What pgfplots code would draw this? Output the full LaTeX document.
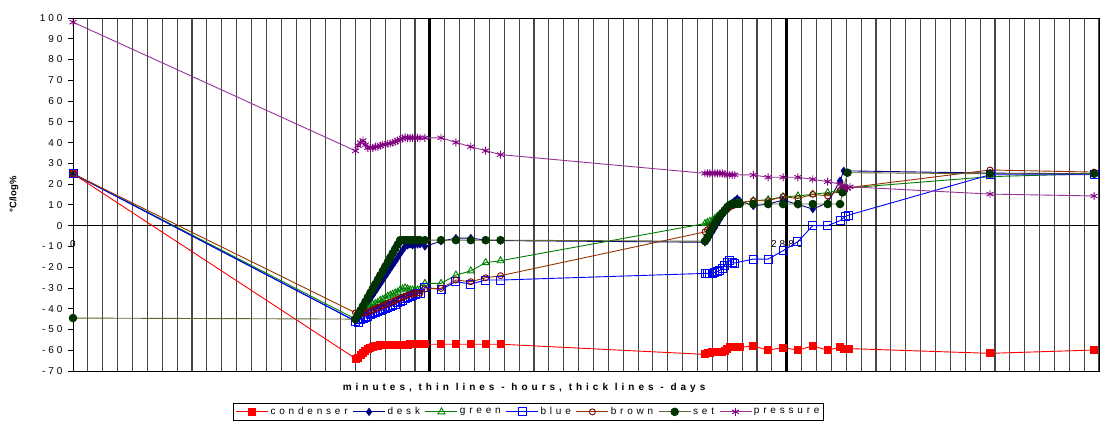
\documentclass[border=0pt]{standalone}
\usepackage{fontspec}
\setmainfont{Liberation Sans}
\newfontfamily\spfont{Liberation Sans}[LetterSpace=30]
\newfontfamily\lgfont{Liberation Sans}[LetterSpace=38]
\newfontfamily\xlfont{Liberation Sans}[LetterSpace=40]
\usepackage{pgfplots}
\pgfplotsset{compat=1.18}
\definecolor{condc}{HTML}{FF0000}
\definecolor{deskc}{HTML}{000080}
\definecolor{greenc}{HTML}{008000}
\definecolor{bluec}{HTML}{0000FF}
\definecolor{brownl}{HTML}{993300}
\definecolor{brownm}{HTML}{800000}
\definecolor{setl}{HTML}{666633}
\definecolor{setm}{HTML}{003300}
\definecolor{presl}{HTML}{993399}
\definecolor{presm}{HTML}{800080}
\begin{document}
\begin{tikzpicture}
\path[use as bounding box] (-73pt,-49pt) rectangle (1029pt,371pt);
\begin{axis}[
  at={(0,0)}, anchor=south west,
  scale only axis, width=1026pt, height=353pt,
  xmin=0, xmax=4140, ymin=-70, ymax=100,
  axis line style={black, line width=0.9pt},
  ytick={-70,-60,...,100},
  yticklabels={-70,-60,-50,-40,-30,-20,-10,0,10,20,30,40,50,60,70,80,90,100},
  yticklabel style={font=\spfont\fontsize{10}{12}\selectfont, xshift=-2pt},
  ytick pos=left, tick align=outside, major tick length=5pt,
  ytick style={black, line width=0.8pt},
  xtick={0,2880}, xticklabels={0,2880},
  xticklabel style={font=\spfont\fontsize{10}{12}\selectfont, anchor=north, yshift=139pt},
  xtick style={draw=none},
  minor xtick={60,120,...,4140}, xminorgrids, minor tick length=0pt,
  minor grid style={black!72, line width=1.1pt},
  extra x ticks={1440,2880}, extra x tick labels={},
  extra x tick style={xmajorgrids=true, major grid style={black, line width=3pt}, major tick length=0pt},
  extra y ticks={0}, extra y tick labels={},
  extra y tick style={ymajorgrids=true, major grid style={black, line width=0.9pt}},
  xlabel={\xlfont\bfseries minutes, thin lines - hours, thick lines - days},
  xlabel style={font=\fontsize{10}{12}\selectfont, at={(axis description cs:0.4396,-0.048)}, anchor=center},
  ylabel={\bfseries °C/log\%},
  ylabel style={font=\fontsize{9.5}{11}\selectfont, at={(axis description cs:-0.0575,0.5)}, anchor=center},
  legend columns=-1,
  legend style={at={(axis description cs:0.444,-0.0907)}, anchor=north, draw=black, line width=0.9pt,
    font=\lgfont\fontsize{10}{12}\selectfont, inner sep=2pt,
    /tikz/every even column/.append style={column sep=3pt}},
  legend image code/.code={\draw[mark repeat=2,mark phase=2,#1] plot coordinates {(0pt,0pt) (16pt,0pt) (32pt,0pt)};},
]
% condenser
\addplot[condc, line width=0.9pt, mark=square*, mark size=3.5pt, mark options={fill=condc}] table {
0 25
1140 -64
1150 -63.5
1160 -62.5
1170 -61.5
1180 -60.5
1190 -59.5
1200 -59
1210 -58.5
1220 -58
1230 -57.8
1240 -57.6
1250 -57.5
1260 -57.5
1270 -57.5
1280 -57.5
1290 -57.4
1300 -57.4
1310 -57.4
1320 -57.3
1330 -57.3
1340 -57.3
1350 -57.3
1360 -57.2
1370 -57.2
1380 -57.2
1390 -57.2
1400 -57.2
1420 -57.1
1485 -57.1
1545 -57.1
1605 -57.1
1665 -57.1
1725 -57.1
2550 -62
2560 -61.5
2570 -61.2
2580 -61
2590 -61
2600 -61
2610 -61
2620 -61
2630 -60.5
2640 -59.5
2650 -58.3
2660 -58.3
2670 -58.3
2680 -58.6
2690 -58.6
2745 -58
2805 -59.9
2865 -58.8
2925 -59.9
2985 -58
3045 -59.9
3095 -58.6
3110 -59.2
3130 -59.2
3700 -61.5
4120 -59.9
};
\addlegendentry{condenser}
% desk
\addplot[deskc, line width=0.9pt, mark=diamond*, mark size=3.5pt, mark options={fill=deskc}] table {
0 25
1140 -46
1150 -44.2
1160 -42.4
1170 -40.6
1180 -38.8
1190 -37
1200 -35.2
1210 -33.4
1220 -31.6
1230 -29.8
1240 -28
1250 -26.2
1260 -24.4
1270 -22.6
1280 -20.8
1290 -19
1300 -17.2
1310 -15.4
1320 -13.6
1330 -11.8
1340 -10
1350 -9.5
1360 -9
1370 -9.5
1380 -9
1390 -9
1400 -9
1420 -10
1485 -7.5
1545 -6
1605 -6
1665 -7
1725 -7.2
2550 -8
2560 -7
2570 -5
2580 -3
2590 -1
2600 1
2610 3
2620 5
2630 7
2640 8.5
2650 10
2660 11
2670 12
2680 13
2690 12
2745 9.5
2805 10.4
2865 12.3
2925 10.2
2985 8
3045 11
3095 21.6
3110 26.4
3700 25.3
4120 25
};
\addlegendentry{desk}
% green
\addplot[greenc, line width=0.9pt, mark=triangle, mark size=4pt] table {
0 25
1140 -45
1150 -44
1160 -43
1170 -42
1180 -41
1190 -40
1200 -39
1210 -38
1220 -37.5
1230 -37
1240 -36
1250 -35.5
1260 -35
1270 -34
1280 -33.5
1290 -33
1300 -32.5
1310 -32
1320 -31
1330 -30.5
1340 -30
1350 -30.5
1360 -31
1370 -31
1380 -31
1390 -31
1400 -31
1420 -27.8
1485 -27.8
1545 -23.8
1605 -21.8
1665 -17.8
1725 -16.9
2550 1
2560 1.5
2570 2
2580 2.5
2590 3.5
2600 4.5
2610 5.5
2620 6.5
2630 7.5
2640 8.5
2650 9.5
2660 10
2670 10.5
2680 11
2690 11
2745 12
2805 12.5
2865 13.9
2925 14.3
2985 15.1
3045 15.9
3095 17
3110 18
3700 23.6
4120 25
};
\addlegendentry{green}
% blue
\addplot[bluec, line width=0.9pt, mark=square, mark size=4pt] table {
0 25
1140 -46
1150 -46.5
1160 -45
1170 -44.5
1180 -44
1190 -43.5
1200 -43
1210 -42.5
1220 -42
1230 -41.5
1240 -41
1250 -40.5
1260 -40
1270 -39.5
1280 -39
1290 -38.5
1300 -38
1310 -37
1320 -36.5
1330 -36
1340 -35
1350 -34.5
1360 -34
1370 -33.5
1380 -33
1390 -32.5
1400 -32.5
1420 -29.7
1485 -30.7
1545 -27
1605 -28.1
1665 -26.2
1725 -26.2
2550 -23
2560 -23
2570 -23
2580 -23
2590 -22.5
2600 -22
2610 -21.5
2620 -20.5
2630 -19
2640 -17.5
2650 -16.9
2660 -17.5
2670 -18
2745 -16.1
2805 -16.1
2865 -12.1
2925 -7.7
2985 0
3045 0
3095 2.4
3115 4.3
3130 5.1
3700 24.5
4120 24.5
};
\addlegendentry{blue}
% brown
\addplot[brownl, line width=0.9pt, mark=o, mark size=3pt, mark options={draw=brownm}] table {
0 25
1140 -42
1150 -43
1160 -42.5
1170 -42
1180 -42
1190 -41.5
1200 -41
1210 -40.5
1220 -40
1230 -39.5
1240 -39
1250 -38.5
1260 -38
1270 -37.5
1280 -37
1290 -36.5
1300 -36
1310 -35.5
1320 -35
1330 -34.5
1340 -34
1350 -33.5
1360 -33
1370 -33
1380 -32.5
1390 -32.5
1400 -32.5
1420 -30.5
1485 -30.2
1545 -26.2
1605 -27
1665 -25.1
1725 -24.1
2550 -3
2560 -2
2570 -1
2580 0
2590 1.5
2600 3
2610 4.5
2620 6
2630 7
2640 8
2650 9
2660 9.5
2670 10
2680 10.5
2690 11
2745 12
2805 12
2865 14
2925 13.1
2985 15.1
3045 14.3
3095 17
3110 18
3700 26.8
4120 25.8
};
\addlegendentry{brown}
% set
\addplot[setl, line width=0.9pt, mark=*, mark size=3.8pt, mark options={draw=setm, fill=setm}] table {
0 -44.5
1140 -45
1150 -42.9
1160 -40.8
1170 -38.7
1180 -36.6
1190 -34.4
1200 -32.3
1210 -30.2
1220 -28.1
1230 -26
1240 -23.9
1250 -21.8
1260 -19.7
1270 -17.6
1280 -15.4
1290 -13.3
1300 -11.2
1310 -9.1
1320 -7
1330 -7
1340 -7
1350 -7
1360 -7
1370 -7
1380 -7
1390 -7
1400 -7
1420 -7
1485 -7
1545 -7
1605 -7
1665 -7
1725 -7
2550 -7.5
2560 -5.5
2570 -3
2580 -1
2590 1
2600 3
2610 4.5
2620 6
2630 7.5
2640 9
2650 10
2660 10.5
2670 10.5
2680 10.5
2690 10.5
2745 10.4
2805 10.4
2865 10.4
2925 10.4
2985 10.4
3045 10.4
3095 10.4
3105 16
3125 25.5
3700 25
4120 25
};
\addlegendentry{set}
% pressure
\addplot[presl, line width=0.9pt, mark=asterisk, mark size=4pt, mark options={draw=presm}] table {
0 98
1140 36
1150 38.5
1160 40
1170 41
1180 39
1190 37.5
1200 37.5
1210 37.5
1220 38
1230 38
1240 38.5
1250 39
1260 39
1270 39.5
1280 39.5
1290 40
1300 40.5
1310 41
1320 41.5
1330 42
1340 42.5
1350 42.3
1360 42.3
1370 42.3
1380 42.3
1390 42.3
1400 42.3
1420 42.3
1485 42.3
1545 40.1
1605 38
1665 36.1
1725 34.2
2550 25.2
2560 25.2
2570 25.2
2580 25.2
2590 25.2
2600 25.2
2610 25.2
2620 25.2
2630 24.8
2640 24.5
2650 24.5
2660 24.5
2670 24.5
2745 24.4
2805 23.3
2865 23.3
2925 23.3
2985 22.3
3045 21.2
3095 20
3105 19
3115 18.5
3125 18
3135 18.7
3700 15.2
4120 14.3
};
\addlegendentry{pressure}
\end{axis}
\end{tikzpicture}
\end{document}
